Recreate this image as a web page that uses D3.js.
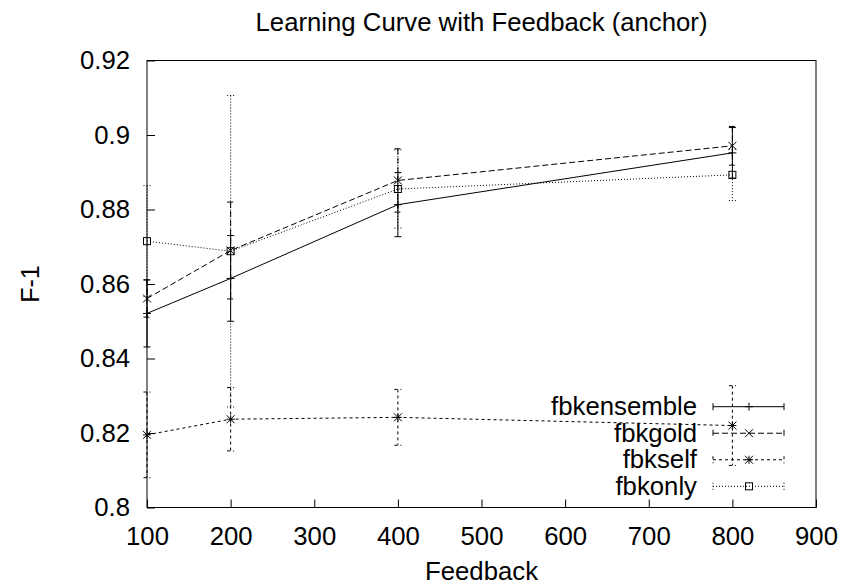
<!DOCTYPE html>
<html>
<head>
<meta charset="utf-8">
<script src="https://cdn.jsdelivr.net/npm/d3@7/dist/d3.min.js"></script>
<style>
  body { margin: 0; background: #fff; }
  svg { display: block; }
  text { font-family: "Liberation Sans", Arial, Helvetica, sans-serif; fill: #000; }
</style>
</head>
<body>
<div id="chart"></div>
<script>
// data
const feedback = [100, 200, 400, 800];
const fbkensemble = [0.8521, 0.8615, 0.8813, 0.8952];
const fbkensembleErr = [0.009, 0.0115, 0.0086, 0.0068];
const fbkgold = [0.8561, 0.8690, 0.8878, 0.8971];
const fbkgoldErr = [0.005, 0.013, 0.0085, 0.0052];
const fbkself = [0.8195, 0.8237, 0.8242, 0.8220];
const fbkselfErr = [0.0115, 0.0085, 0.0075, 0.0107];
const fbkonly = [0.8715, 0.8688, 0.8855, 0.8893];
const fbkonlyErr = [0.0149, 0.0418, 0.0105, 0.0069];

const xTicks = [100, 200, 300, 400, 500, 600, 700, 800, 900];
const yTicks = [0.8, 0.82, 0.84, 0.86, 0.88, 0.9, 0.92];

const series = [
  { name: "fbkensemble", values: fbkensemble, err: fbkensembleErr, dash: null, marker: "plus" },
  { name: "fbkgold", values: fbkgold, err: fbkgoldErr, dash: "6,3", marker: "cross" },
  { name: "fbkself", values: fbkself, err: fbkselfErr, dash: "3,3", marker: "star" },
  { name: "fbkonly", values: fbkonly, err: fbkonlyErr, dash: "1,2", marker: "square" }
];

const W = 846, H = 588;
const margin = { top: 60.5, right: 30, bottom: 80.5, left: 147 };
const FS = 25, SX = 1.03;

const svg = d3.select("#chart").append("svg")
  .attr("width", W).attr("height", H);

const x = d3.scaleLinear().domain([100, 900]).range([margin.left, W - margin.right]);
const y = d3.scaleLinear().domain([0.8, 0.92]).range([H - margin.bottom, margin.top]);

function label(txt, px, py, anchor, rot) {
  const g = svg.append("g")
    .attr("transform", `translate(${px},${py}) scale(${SX},1)` + (rot ? ` rotate(${rot})` : ""));
  g.append("text")
    .attr("text-anchor", anchor)
    .style("font-size", FS + "px")
    .text(txt);
}

// axes
const xAxis = svg.append("g")
  .attr("transform", `translate(0,${y(0.8)})`)
  .call(d3.axisBottom(x).tickValues(xTicks).tickFormat(d3.format("d"))
    .tickSizeInner(-8).tickSizeOuter(0).tickPadding(20));
const yAxis = svg.append("g")
  .attr("transform", `translate(${x(100)},0)`)
  .call(d3.axisLeft(y).tickValues(yTicks).tickFormat(d => String(+d.toFixed(2)))
    .tickSizeInner(-8).tickSizeOuter(0).tickPadding(16.5));

[xAxis, yAxis].forEach(a => {
  a.select(".domain").remove();
  a.selectAll("line").attr("stroke", "#000").attr("stroke-width", 1);
  a.selectAll("text")
    .attr("transform", `scale(${SX},1)`)
    .style("font-size", FS + "px")
    .attr("fill", "#000");
});

svg.append("rect")
  .attr("x", x(100)).attr("y", y(0.92))
  .attr("width", x(900) - x(100)).attr("height", y(0.8) - y(0.92))
  .attr("fill", "none").attr("stroke", "#000").attr("stroke-width", 1);

function drawMarker(g, type, cx, cy) {
  const s = 4;
  const st = sel => sel.attr("stroke", "#000").attr("stroke-width", 1).attr("fill", "none");
  if (type === "plus" || type === "star") {
    st(g.append("path").attr("d", `M${cx - s},${cy}H${cx + s}M${cx},${cy - s}V${cy + s}`));
  }
  if (type === "cross" || type === "star") {
    st(g.append("path").attr("d", `M${cx - s},${cy - s}L${cx + s},${cy + s}M${cx - s},${cy + s}L${cx + s},${cy - s}`));
  }
  if (type === "square") {
    st(g.append("rect").attr("x", cx - 3.5).attr("y", cy - 3.5).attr("width", 7).attr("height", 7));
  }
}

const line = d3.line().x(d => x(d[0])).y(d => y(d[1]));

series.forEach(s => {
  const g = svg.append("g");
  const pts = feedback.map((f, i) => [f, s.values[i], s.err[i]]);
  // error bars
  pts.forEach(p => {
    const px = x(p[0]), y1 = y(p[1] + p[2]), y2 = y(p[1] - p[2]);
    g.append("path")
      .attr("d", `M${px},${y1}V${y2}M${px - 3.5},${y1}H${px + 3.5}M${px - 3.5},${y2}H${px + 3.5}`)
      .attr("stroke", "#000").attr("fill", "none").attr("stroke-width", 1)
      .attr("stroke-dasharray", s.dash);
  });
  g.append("path")
    .datum(pts)
    .attr("d", line)
    .attr("fill", "none").attr("stroke", "#000").attr("stroke-width", 1)
    .attr("stroke-dasharray", s.dash);
  pts.forEach(p => drawMarker(g, s.marker, x(p[0]), y(p[1])));
});

// legend
const legY = d3.scaleLinear().domain([0, 3]).range([406.7, 486.3]);
series.forEach((s, i) => {
  const ly = legY(i);
  const g = svg.append("g");
  label(s.name, 697, ly + 8.5, "end");
  g.append("path")
    .attr("d", `M713,${ly}H784M713,${ly - 3.5}V${ly + 3.5}M784,${ly - 3.5}V${ly + 3.5}`)
    .attr("stroke", "#000").attr("fill", "none").attr("stroke-width", 1)
    .attr("stroke-dasharray", s.dash);
  drawMarker(g, s.marker, 749, ly);
});

// titles
label("Learning Curve with Feedback (anchor)", (x(100) + x(900)) / 2, 31, "middle");
label("Feedback", (x(100) + x(900)) / 2, 580, "middle");
label("F-1", 39, (y(0.8) + y(0.92)) / 2, "middle", -90);
</script>
</body>
</html>
